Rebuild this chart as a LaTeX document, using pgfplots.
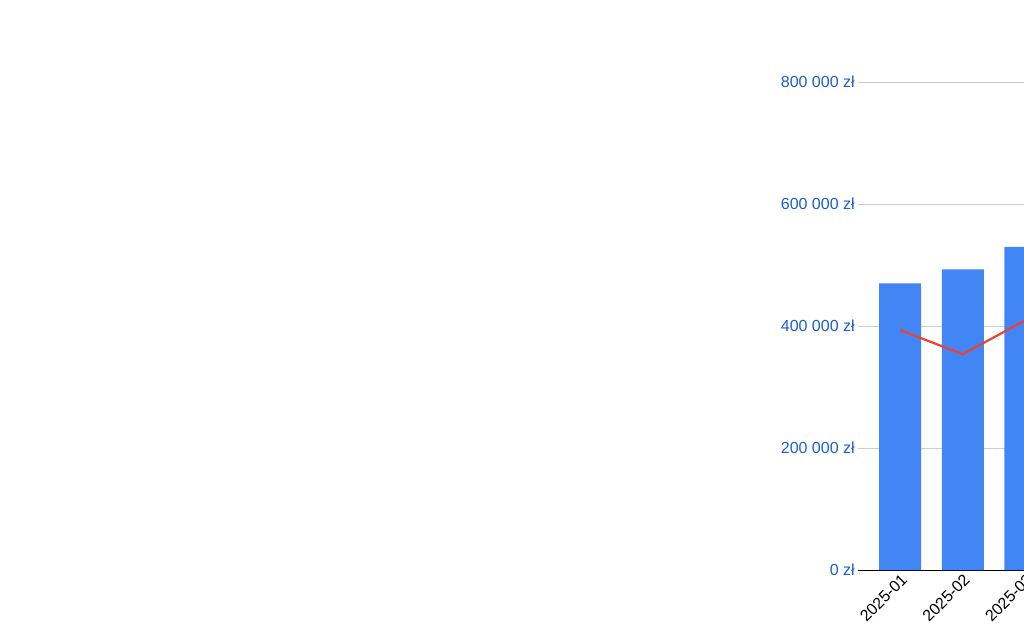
\documentclass[border=0pt]{standalone}
\usepackage{pgfplots}
\pgfplotsset{compat=1.18}
\usepackage{fontspec}
\setmainfont{Liberation Sans}
\definecolor{barblue}{HTML}{4285F4}
\definecolor{linered}{HTML}{EA4335}
\definecolor{lblue}{HTML}{1A5FCC}
\definecolor{rred}{HTML}{A61C00}
\begin{document}
\begin{tikzpicture}[x=1pt,y=1pt]
\useasboundingbox (0,0) rectangle (1024,633);
\pgfplotsset{every axis/.style={font=\fontsize{16}{19}\selectfont}}
\begin{axis}[at={(137,103)},anchor=south west,scale only axis,
 width=763pt,height=488pt,
 xmin=-0.67,xmax=11.51,ymin=0,ymax=800000,
 ytick={0,200000,400000,600000,800000},
 yticklabels={0 zł,200 000 zł,400 000 zł,600 000 zł,800 000 zł},
 scaled ticks=false,
 yticklabel style={text=lblue},
 ymajorgrids, grid style={gray!40},
 axis y line*=left, axis x line*=bottom,
 y axis line style={draw=none},
 major tick length=0pt,
 xtick={0,...,11},
 xticklabels={2025-01,2025-02,2025-03,2025-04,2025-05,2025-06,2025-07,2025-08,2025-09,2025-10,2025-11,2025-12},
 xticklabel style={rotate=45,anchor=north east,inner sep=2pt},
 legend style={draw=none,at={(0.5,0.985)},anchor=north,legend columns=2,
   /tikz/every even column/.append style={column sep=20pt}},
 legend cell align=left,
]
\addplot[ybar,bar width=42pt,fill=barblue,draw=none] coordinates {
(0,470000)(1,493000)(2,530000)(3,564000)(4,589000)(5,597000)(6,641000)(7,667000)(8,672000)(9,703000)(10,723000)(11,738000)};
\addlegendentry{Saldo}
\addlegendimage{line width=3pt,linered}
\addlegendentry{Dochód}
\end{axis}
\begin{axis}[at={(137,103)},anchor=south west,scale only axis,
 width=763pt,height=488pt,
 xmin=-0.67,xmax=11.51,ymin=0,ymax=8000,
 ytick={0,2000,4000,6000,8000},
 yticklabels={0 zł,2 000 zł,4 000 zł,6 000 zł,8 000 zł},
 scaled ticks=false,
 yticklabel style={text=rred},
 axis y line*=right, axis x line=none,
 y axis line style={draw=none},
 major tick length=0pt,
]
\addplot[linered,line width=2.2pt,mark=none] coordinates {
(0,3934)(1,3541)(2,4098)(3,4016)(4,4541)(5,4885)(6,6213)(7,5705)(8,6787)(9,7197)(10,6475)(11,6574)};
\end{axis}
\end{tikzpicture}
\end{document}
